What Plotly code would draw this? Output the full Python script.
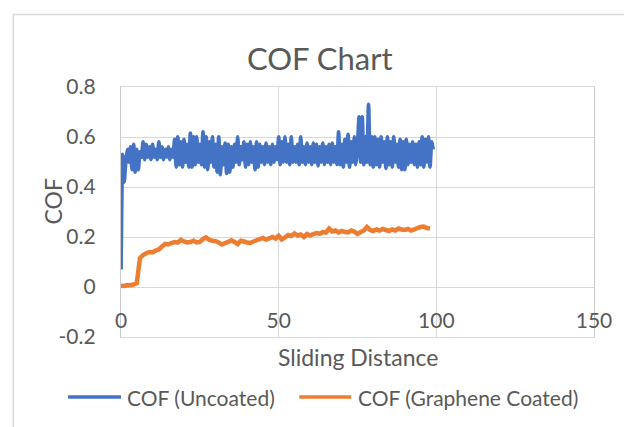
import plotly.graph_objects as go

# ---------------- data ----------------
step_uncoated = 0.5   # sliding-distance spacing of the uncoated samples
cof_uncoated = [
    0.07, 0.53, 0.42, 0.50, 0.55, 0.50, 0.56, 0.47, 0.57, 0.46,
    0.55, 0.47, 0.54, 0.52, 0.58, 0.51, 0.57, 0.52, 0.56, 0.51,
    0.57, 0.52, 0.55, 0.51, 0.58, 0.52, 0.56, 0.51, 0.55, 0.52,
    0.56, 0.51, 0.55, 0.52, 0.59, 0.48, 0.60, 0.49, 0.58, 0.48,
    0.59, 0.50, 0.57, 0.48, 0.615, 0.48, 0.60, 0.49, 0.60, 0.50,
    0.57, 0.49, 0.62, 0.48, 0.60, 0.47, 0.58, 0.50, 0.60, 0.48,
    0.57, 0.46, 0.60, 0.45, 0.56, 0.49, 0.575, 0.455, 0.57, 0.46,
    0.56, 0.48, 0.57, 0.50, 0.60, 0.49, 0.56, 0.51, 0.58, 0.48,
    0.57, 0.49, 0.58, 0.50, 0.56, 0.47, 0.58, 0.48, 0.57, 0.50,
    0.56, 0.49, 0.575, 0.50, 0.56, 0.49, 0.57, 0.50, 0.56, 0.51,
    0.60, 0.49, 0.58, 0.50, 0.60, 0.50, 0.57, 0.49, 0.60, 0.50,
    0.56, 0.50, 0.57, 0.49, 0.60, 0.50, 0.56, 0.49, 0.575, 0.50,
    0.56, 0.49, 0.575, 0.50, 0.57, 0.485, 0.56, 0.50, 0.575, 0.49,
    0.56, 0.50, 0.57, 0.49, 0.575, 0.50, 0.56, 0.49, 0.62, 0.49,
    0.57, 0.48, 0.59, 0.50, 0.61, 0.48, 0.58, 0.50, 0.60, 0.49,
    0.56, 0.68, 0.50, 0.68, 0.49, 0.60, 0.50, 0.73, 0.49, 0.60,
    0.48, 0.60, 0.49, 0.59, 0.48, 0.60, 0.50, 0.58, 0.475, 0.60,
    0.49, 0.58, 0.48, 0.60, 0.50, 0.57, 0.48, 0.59, 0.47, 0.58,
    0.47, 0.59, 0.49, 0.57, 0.50, 0.58, 0.49, 0.57, 0.48, 0.58,
    0.49, 0.60, 0.48, 0.59, 0.50, 0.60, 0.48, 0.58, 0.55,
]

step_coated = 1.0     # sliding-distance spacing of the coated samples
cof_coated = [
    0.005, 0.004, 0.008, 0.007, 0.010, 0.015, 0.115, 0.128, 0.135, 0.140,
    0.138, 0.146, 0.150, 0.162, 0.172, 0.170, 0.176, 0.180, 0.178, 0.188,
    0.182, 0.178, 0.180, 0.185, 0.178, 0.180, 0.192, 0.198, 0.188, 0.185,
    0.183, 0.178, 0.170, 0.176, 0.180, 0.187, 0.180, 0.172, 0.185, 0.182,
    0.178, 0.176, 0.182, 0.187, 0.192, 0.196, 0.190, 0.194, 0.200, 0.194,
    0.205, 0.190, 0.198, 0.208, 0.204, 0.214, 0.206, 0.210, 0.200, 0.212,
    0.206, 0.212, 0.216, 0.213, 0.220, 0.218, 0.234, 0.222, 0.226, 0.218,
    0.224, 0.220, 0.218, 0.226, 0.222, 0.212, 0.220, 0.226, 0.240, 0.228,
    0.224, 0.230, 0.226, 0.232, 0.228, 0.224, 0.230, 0.226, 0.234, 0.230,
    0.228, 0.232, 0.226, 0.230, 0.236, 0.240, 0.242, 0.236, 0.234,
]

x_ticks = [0, 50, 100, 150]
x_tick_labels = ["0", "50", "100", "150"]
y_ticks = [-0.2, 0, 0.2, 0.4, 0.6, 0.8]
y_tick_labels = ["-0.2", "0", "0.2", "0.4", "0.6", "0.8"]

series_names = ["COF (Uncoated)", "COF (Graphene Coated)"]
series_colors = ["#4472C4", "#ED7D31"]

chart_title = "COF Chart"
x_title = "Sliding Distance"
y_title = "COF"

# ---------------- figure ----------------
dist_uncoated = [i * step_uncoated for i in range(len(cof_uncoated))]
dist_coated = [i * step_coated for i in range(len(cof_coated))]

FONT = "Lato"
TXT = "#595959"
GRID = "#D9D9D9"

fig = go.Figure()
fig.add_trace(go.Scatter(
    x=dist_uncoated, y=cof_uncoated, mode="lines", name=series_names[0],
    line=dict(color=series_colors[0], width=3.8, simplify=False,
              shape="spline", smoothing=0.5),
    showlegend=False))
fig.add_trace(go.Scatter(
    x=dist_coated, y=cof_coated, mode="lines", name=series_names[1],
    line=dict(color=series_colors[1], width=4.5, simplify=False),
    showlegend=False))

W, H = 624, 427
L, R, T, B = 121, 20, 87, 90
pw, ph = W - L - R, H - T - B


def px(xp):
    return (xp - L) / pw


def py(yp):
    return (H - B - yp) / ph


fig.update_layout(
    width=W, height=H,
    margin=dict(l=L, r=R, t=T, b=B, pad=0),
    paper_bgcolor="white", plot_bgcolor="white",
    font=dict(family=FONT, color=TXT, size=21),
)

fig.update_xaxes(
    range=[0, 150], tickvals=x_ticks, ticktext=x_tick_labels,
    showgrid=True, gridcolor=GRID, gridwidth=1.3,
    showline=True, linecolor=GRID, linewidth=1.3, mirror=True,
    zeroline=False, ticks="", ticklabelstandoff=-35,
    tickfont=dict(family=FONT, size=21, color=TXT),
)
fig.update_yaxes(
    range=[-0.2, 0.8], tickvals=y_ticks, ticktext=y_tick_labels,
    showgrid=True, gridcolor=GRID, gridwidth=1.3,
    showline=True, linecolor="#C9C9C9", linewidth=1.3, mirror=True,
    zeroline=True, zerolinecolor=GRID, zerolinewidth=1.3,
    ticks="", ticklabelstandoff=20,
    tickfont=dict(family=FONT, size=21, color=TXT),
)

annotations = [
    dict(text=chart_title, x=px(324), y=py(58), font=dict(size=31)),
    dict(text=x_title, x=px(362.5), y=py(357), font=dict(size=23)),
    dict(text=y_title, x=px(52), y=py(201), textangle=-90, font=dict(size=23)),
    dict(text=series_names[0], x=px(125), y=py(397), xanchor="left",
         font=dict(size=21)),
    dict(text=series_names[1], x=px(361), y=py(397), xanchor="left",
         font=dict(size=21)),
]
for a in annotations:
    a.setdefault("xanchor", "center")
    a.update(xref="paper", yref="paper", yanchor="middle", showarrow=False)
    a["font"].update(family=FONT, color=TXT)
fig.update_layout(annotations=annotations)

shapes = [
    # chart frame
    dict(type="rect", xref="paper", yref="paper",
         x0=px(11), x1=px(700), y0=py(500), y1=py(14.5),
         line=dict(color=GRID, width=1.5), fillcolor="rgba(0,0,0,0)",
         layer="below"),
    # legend keys
    dict(type="line", xref="paper", yref="paper",
         x0=px(67), x1=px(121), y0=py(397), y1=py(397),
         line=dict(color=series_colors[0], width=3.5)),
    dict(type="line", xref="paper", yref="paper",
         x0=px(303), x1=px(356), y0=py(397), y1=py(397),
         line=dict(color=series_colors[1], width=3.5)),
]
fig.update_layout(shapes=shapes)

fig.write_html("out.html")
